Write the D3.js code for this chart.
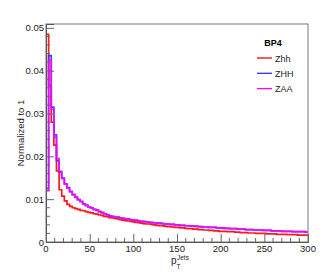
<!DOCTYPE html>
<html>
<head>
<meta charset="utf-8">
<script src="https://cdn.jsdelivr.net/npm/d3@7"></script>
<style>
  body { margin: 0; background: #fff; }
  svg { font-family: "Liberation Sans", Arial, Helvetica, sans-serif; }
</style>
</head>
<body>
<div id="chart"></div>
<script>
// histogram: 100 bins of 3 GeV from 0 to 300
const binLow = 0, binWidth = 3;
const zhh = [
  .0485, .0365, .0280, .0226, .0166, .0122, .0107, .0096, .0088, .0083,
  .0080, .0078, .0076, .0074, .0073, .0071, .0069, .0068, .0066, .0065,
  .0063, .0062, .0060, .0059, .0057, .0056, .0055, .0054, .0052, .0051,
  .0050, .0049, .0048, .0047, .0046, .0045, .0044, .0043, .0042, .0042,
  .0041, .0040, .0039, .0038, .0038, .0037, .0036, .0036, .0035, .0034,
  .0034, .0033, .0033, .0032, .0031, .0031, .0030, .0030, .0029, .0029,
  .0028, .0028, .0027, .0027, .0026, .0026, .0025, .0025, .0025, .0024,
  .0024, .0024, .0023, .0023, .0022, .0022, .0022, .0021, .0021, .0021,
  .0020, .0020, .0020, .0020, .0019, .0019, .0019, .0019, .0018, .0018,
  .0018, .0018, .0017, .0017, .0017, .0017, .0016, .0016, .0016, .0016
];
const zHH = [
  .0125, .0435, .0315, .0250, .0190, .0163, .0149, .0136, .0127, .0118,
  .0111, .0105, .0099, .0095, .0089, .0086, .0082, .0080, .0076, .0075,
  .0071, .0069, .0066, .0064, .0061, .0060, .0058, .0058, .0056, .0055,
  .0054, .0054, .0052, .0051, .0051, .0049, .0048, .0048, .0047, .0046,
  .0046, .0045, .0044, .0044, .0043, .0042, .0042, .0041, .0041, .0040,
  .0040, .0039, .0039, .0038, .0038, .0037, .0037, .0037, .0036, .0036,
  .0035, .0035, .0034, .0034, .0034, .0033, .0033, .0033, .0032, .0032,
  .0031, .0031, .0031, .0030, .0030, .0030, .0029, .0029, .0029, .0028,
  .0028, .0028, .0028, .0027, .0027, .0027, .0026, .0026, .0026, .0026,
  .0025, .0025, .0025, .0025, .0024, .0024, .0024, .0024, .0024, .0023
];
const zAA = [
  .0120, .0425, .0310, .0245, .0195, .0165, .0148, .0135, .0126, .0117,
  .0110, .0104, .0099, .0094, .0089, .0085, .0082, .0079, .0076, .0074,
  .0071, .0068, .0066, .0063, .0061, .0059, .0058, .0057, .0056, .0055,
  .0054, .0053, .0052, .0051, .0050, .0049, .0048, .0047, .0047, .0046,
  .0045, .0045, .0044, .0043, .0043, .0042, .0042, .0041, .0041, .0040,
  .0040, .0039, .0039, .0038, .0038, .0037, .0037, .0036, .0036, .0035,
  .0035, .0035, .0034, .0034, .0034, .0033, .0033, .0032, .0032, .0032,
  .0031, .0031, .0031, .0030, .0030, .0030, .0029, .0029, .0029, .0028,
  .0028, .0028, .0027, .0027, .0027, .0027, .0026, .0026, .0026, .0026,
  .0025, .0025, .0025, .0025, .0024, .0024, .0024, .0024, .0024, .0023
];
const seriesNames = ['Zhh', 'ZHH', 'ZAA'];
const seriesColors = ['#ff0000', '#3030ff', '#ff00ff'];
const legendTitle = 'BP4';
const xTicks = [0, 50, 100, 150, 200, 250, 300];
const yTicks = [0, 0.01, 0.02, 0.03, 0.04, 0.05];
const yTickLabels = ['0', '0.01', '0.02', '0.03', '0.04', '0.05'];

const W = 327, H = 272;
const frame = {left: 46, right: 308, top: 24, bottom: 242};

const svg = d3.select('#chart').append('svg')
  .attr('width', W).attr('height', H);

const x = d3.scaleLinear().domain([0, 300]).range([frame.left, frame.right]);
const y = d3.scaleLinear().domain([0, 0.0509]).range([frame.bottom, frame.top]);

svg.append('clipPath').attr('id', 'clip')
  .append('rect')
  .attr('x', frame.left).attr('y', frame.top)
  .attr('width', frame.right - frame.left).attr('height', frame.bottom - frame.top);

// histograms
let step = d3.line()
  .curve(d3.curveStepAfter)
  .x(d => x(d[0]))
  .y(d => y(d[1]));

[zhh, zHH, zAA].forEach((vals, k) => {
  let pts = [[binLow, 0]];
  vals.forEach((v, i) => pts.push([binLow + i * binWidth, v]));
  pts.push([binLow + vals.length * binWidth, vals[vals.length - 1]]);
  svg.append('path')
    .attr('clip-path', 'url(#clip)')
    .attr('d', step(pts))
    .attr('fill', 'none')
    .attr('stroke', seriesColors[k])
    .attr('stroke-width', 1.7)
    .attr('stroke-opacity', 0.9);
});

// frame
svg.append('rect')
  .attr('x', frame.left).attr('y', frame.top)
  .attr('width', frame.right - frame.left).attr('height', frame.bottom - frame.top)
  .attr('fill', 'none').attr('stroke', '#777').attr('stroke-width', 1);

// y axis (ticks pointing inward)
let yAxis = d3.axisRight(y).tickValues(yTicks).tickSize(8).tickFormat('');
let yg = svg.append('g').attr('transform', `translate(${frame.left},0)`).call(yAxis);
yg.select('.domain').attr('stroke', '#555');
yg.selectAll('.tick line').attr('stroke', '#666');

let yMinor = d3.range(0, 0.0509, 0.002).filter(v => Math.abs(v * 100 - Math.round(v * 100)) > 1e-6);
svg.append('g').selectAll('line').data(yMinor).enter().append('line')
  .attr('x1', frame.left).attr('x2', frame.left + 4)
  .attr('y1', d => y(d)).attr('y2', d => y(d))
  .attr('stroke', '#666');

svg.append('g').selectAll('text').data(yTicks).enter().append('text')
  .attr('x', frame.left - 2)
  .attr('y', d => y(d) + 3.5)
  .attr('text-anchor', 'end')
  .attr('font-size', 9.5)
  .attr('fill', '#222')
  .text((d, i) => yTickLabels[i]);

// x axis
let xAxis = d3.axisTop(x).tickValues(xTicks).tickSize(8).tickFormat('');
let xg = svg.append('g').attr('transform', `translate(0,${frame.bottom})`).call(xAxis);
xg.select('.domain').attr('stroke', '#555');
xg.selectAll('.tick line').attr('stroke', '#666');

let xMinor = d3.range(10, 300, 10).filter(v => v % 50 !== 0);
svg.append('g').selectAll('line').data(xMinor).enter().append('line')
  .attr('x1', d => x(d)).attr('x2', d => x(d))
  .attr('y1', frame.bottom).attr('y2', frame.bottom - 4)
  .attr('stroke', '#666');

svg.append('g').selectAll('text').data(xTicks).enter().append('text')
  .attr('x', d => x(d))
  .attr('y', frame.bottom + 9.5)
  .attr('text-anchor', 'middle')
  .attr('font-size', 9.5)
  .attr('fill', '#222')
  .text(d => d);

// axis titles
let xt = svg.append('text')
  .attr('x', 171).attr('y', 263.5)
  .attr('font-size', 10).attr('fill', '#222');
xt.append('tspan').text('p');
xt.append('tspan').attr('x', 177).attr('y', 259.5).attr('font-size', 6.5).text('Jets');
xt.append('tspan').attr('x', 176.5).attr('y', 268.5).attr('font-size', 6.5).text('T');

svg.append('text')
  .attr('transform', `translate(24,${(frame.top + frame.bottom) / 2}) rotate(-90)`)
  .attr('text-anchor', 'middle')
  .attr('font-size', 9.5)
  .attr('fill', '#222')
  .text('Normalized to 1');

// legend
svg.append('text')
  .attr('x', 273).attr('y', 46)
  .attr('text-anchor', 'middle')
  .attr('font-size', 9).attr('font-weight', 'bold')
  .text(legendTitle);

let legend = svg.append('g').selectAll('g').data(seriesNames).enter().append('g')
  .attr('transform', (d, i) => `translate(0,${58 + i * 15.3})`);
legend.append('line')
  .attr('x1', 257).attr('x2', 272)
  .attr('stroke', (d, i) => seriesColors[i]).attr('stroke-width', 1.3);
legend.append('text')
  .attr('x', 275).attr('y', 3.5)
  .attr('font-size', 9).attr('fill', '#222')
  .text(d => d);
</script>
</body>
</html>
